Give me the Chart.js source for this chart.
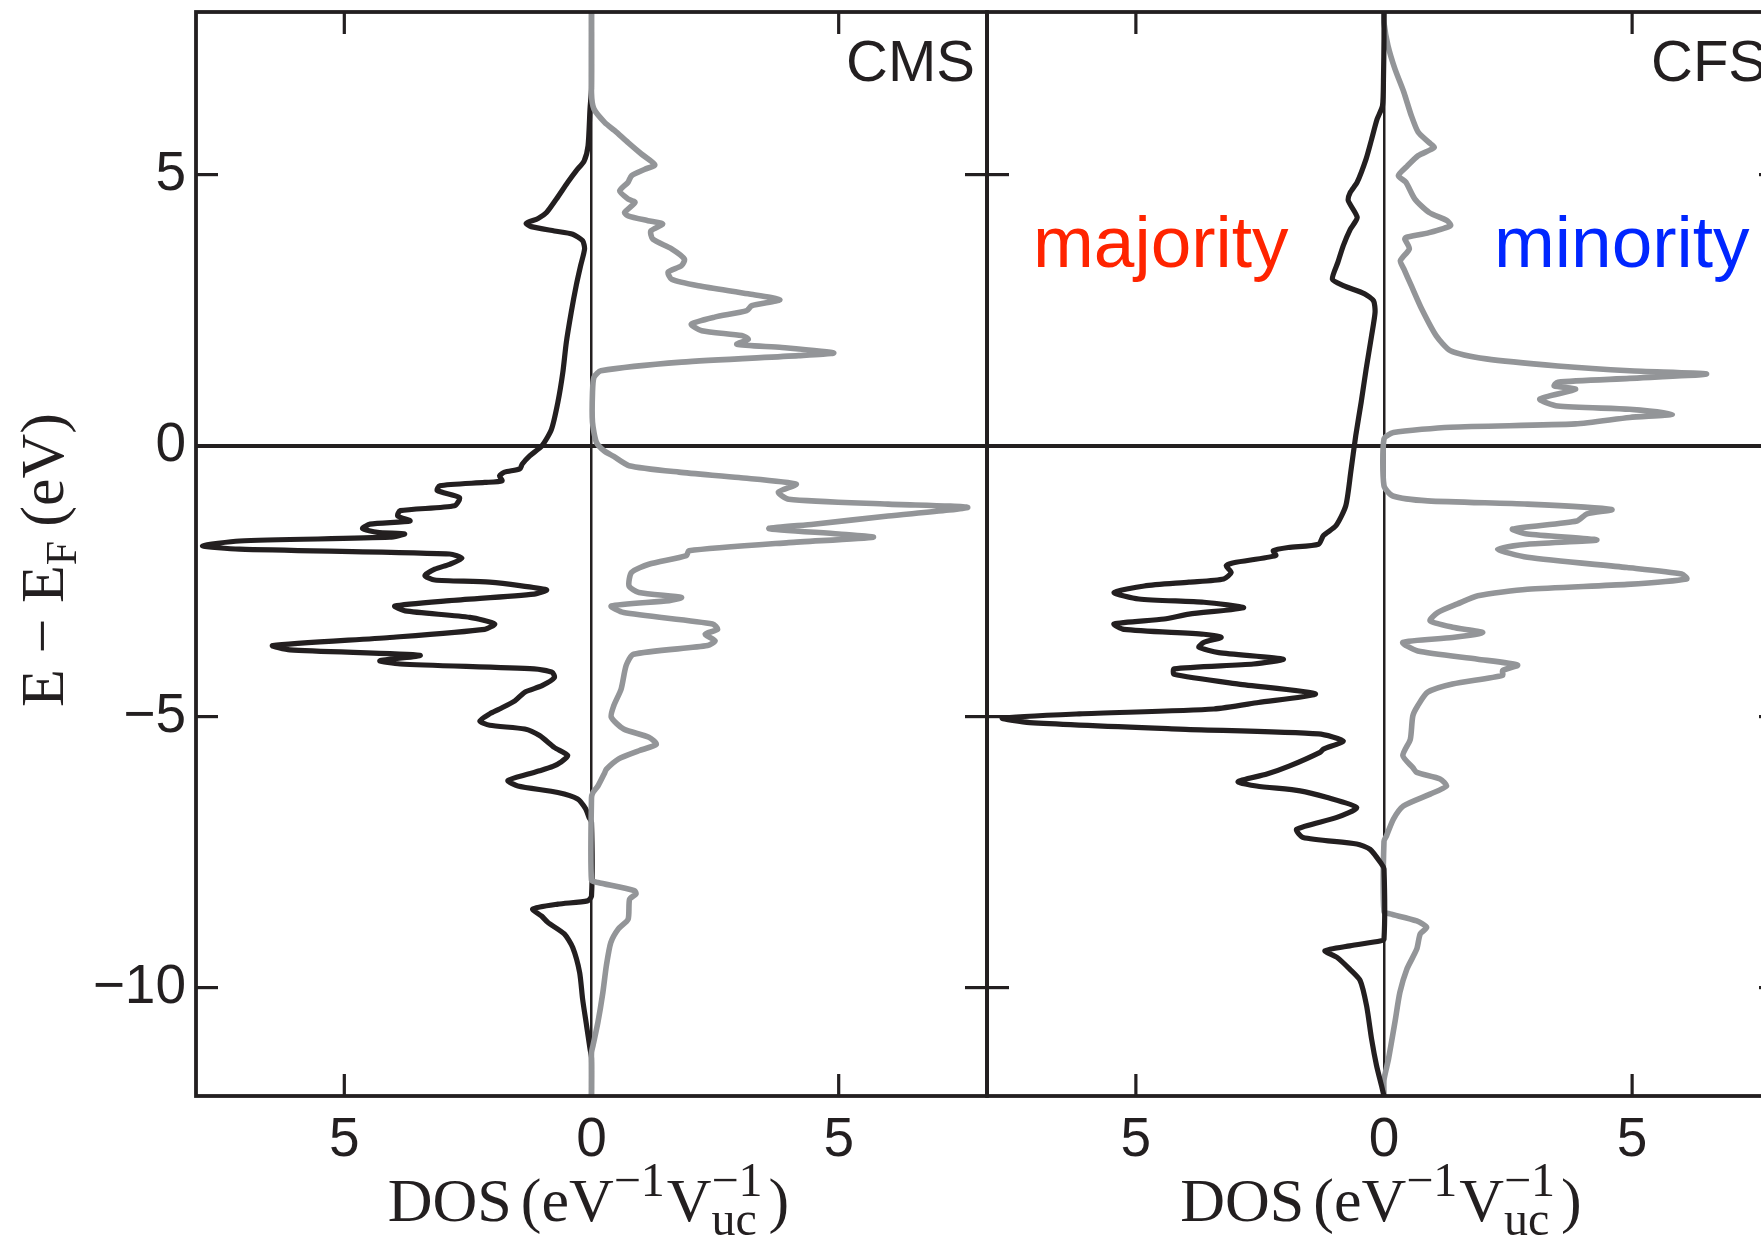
<!DOCTYPE html>
<html>
<head>
<meta charset="utf-8">
<title>Spin-resolved DOS: CMS and CFS</title>
<script src="https://cdn.jsdelivr.net/npm/chart.js@4/dist/chart.umd.min.js"></script>
<style>
  html, body { margin: 0; padding: 0; background: #fff; overflow: hidden; width: 1761px; height: 1237px; }
  #wrap { position: absolute; left: 0; top: 0; width: 1800px; height: 1237px; }
  canvas { display: block; }
</style>
</head>
<body>
<div id="wrap"><canvas id="dos" width="1800" height="1237"></canvas></div>
<script>
// ---- tick values and labels ----
const energyTicks = [5, 0, -5, -10];
const dosTicks = [-5, 0, 5];
const panelLabels = ['CMS', 'CFS'];
const spinLabels = ['majority', 'minority'];

// ---- CMS, majority spin (DOS magnitude, drawn to the left) ----
const cmsMajE = [8.0, 6.6, 6.21, 5.53, 5.25, 5.07, 4.86, 4.55, 4.30, 4.19, 4.10, 4.04, 3.96, 3.90, 3.78, 3.63,
  3.32, 2.95, 2.46, 1.90, 1.35, 0.80, 0.30, 0.0, -0.19, -0.34, -0.43, -0.49, -0.56, -0.65, -0.68, -0.74,
  -0.83, -0.96, -1.11, -1.20, -1.30, -1.39, -1.45, -1.53, -1.60, -1.63, -1.69, -1.76, -1.85, -1.91, -2.00,
  -2.08, -2.19, -2.28, -2.40, -2.48, -2.52, -2.66, -2.74, -2.86, -2.96, -3.05, -3.17, -3.29, -3.39, -3.54,
  -3.69, -3.77, -3.87, -3.97, -4.03, -4.12, -4.18, -4.28, -4.43, -4.55, -4.71, -4.86, -4.95, -5.08, -5.16,
  -5.23, -5.35, -5.57, -5.72, -5.84, -5.92, -6.00, -6.06, -6.18, -6.28, -6.40, -6.52, -6.70, -6.86, -6.95,
  -8.31, -8.40, -8.46, -8.55, -8.68, -8.80, -9.01, -9.26, -9.72, -10.21, -10.70, -11.13, -11.30, -12.0];
const cmsMajDos = [0, 0, 0.03, 0.07, 0.15, 0.31, 0.48, 0.71, 0.91, 1.08, 1.32, 1.22, 0.75, 0.38, 0.18, 0.14,
  0.22, 0.31, 0.41, 0.51, 0.58, 0.68, 0.81, 1.0, 1.25, 1.40, 1.45, 1.76, 1.86, 1.81, 2.16, 3.07,
  3.12, 2.67, 2.77, 3.87, 3.92, 3.67, 4.48, 4.63, 4.33, 3.78, 4.08, 7.12, 7.87, 7.12, 2.87,
  2.62, 2.87, 3.17, 3.37, 3.17, 2.06, 0.91, 1.16, 2.87, 3.98, 3.77, 2.46, 1.96, 2.16, 4.08,
  6.45, 6.10, 3.47, 4.28, 3.87, 1.16, 0.80, 0.75, 1.00, 1.35, 1.55, 1.86, 2.06, 2.26, 2.06,
  1.35, 1.05, 0.75, 0.48, 0.62, 0.78, 1.05, 1.28, 1.69, 1.49, 0.68, 0.28, 0.12, 0.05, 0,
  0, 0.08, 0.68, 1.19, 1.01, 0.88, 0.55, 0.38, 0.24, 0.18, 0.10, 0.03, 0, 0];

// ---- CMS, minority spin (drawn to the right) ----
const cmsMinE = [8.0, 6.5, 6.21, 5.96, 5.81, 5.59, 5.38, 5.18, 5.10, 4.98, 4.86, 4.70, 4.55, 4.49, 4.30, 4.24,
  4.15, 4.09, 3.96, 3.81, 3.63, 3.44, 3.32, 3.20, 3.07, 2.95, 2.80, 2.69, 2.58, 2.49, 2.37, 2.24, 2.12,
  2.03, 1.96, 1.87, 1.81, 1.71, 1.66, 1.54, 1.38, 1.26, 0.98, 0.43, 0.06, -0.10, -0.20, -0.37, -0.49,
  -0.59, -0.71, -0.86, -0.99, -1.08, -1.14, -1.30, -1.45, -1.53, -1.63, -1.69, -1.79, -1.94, -2.03,
  -2.19, -2.34, -2.59, -2.71, -2.80, -2.86, -2.96, -3.08, -3.29, -3.39, -3.48, -3.60, -3.69, -3.85,
  -4.06, -4.49, -4.80, -5.01, -5.23, -5.38, -5.51, -5.63, -5.78, -5.97, -6.03, -6.28, -6.40, -6.50,
  -8.02, -8.06, -8.21, -8.27, -8.37, -8.74, -8.92, -9.17, -9.60, -10.09, -10.64, -11.07, -11.20, -12.0];
const cmsMinDos = [0, 0, 0.05, 0.27, 0.47, 0.74, 1.01, 1.28, 1.08, 0.81, 0.74, 0.57, 0.74, 0.88, 0.67, 0.74,
  1.14, 1.44, 1.20, 1.24, 1.62, 1.88, 1.82, 1.55, 1.62, 2.16, 3.17, 3.81, 3.24, 3.14, 2.49, 2.02, 2.23,
  3.04, 3.17, 2.94, 3.85, 4.90, 4.19, 1.82, 0.19, 0.05, 0.02, 0.02, 0.10, 0.26, 0.45, 0.76, 1.77,
  2.98, 4.14, 3.78, 3.99, 6.00, 7.61, 6.00, 4.49, 3.59, 5.00, 5.70, 3.99, 1.97, 1.92,
  1.16, 0.81, 0.76, 0.96, 1.82, 1.57, 0.40, 0.65, 2.45, 2.55, 2.30, 2.50, 2.35, 0.85,
  0.70, 0.60, 0.45, 0.40, 0.65, 1.16, 1.31, 0.96, 0.55, 0.30, 0.27, 0.13, 0.03, 0,
  0, 0.13, 0.87, 0.90, 0.77, 0.74, 0.54, 0.39, 0.30, 0.23, 0.13, 0.03, 0, 0];

// ---- CFS, majority spin ----
const cfsMajE = [8.0, 7.5, 6.8, 6.27, 6.02, 5.65, 5.29, 4.86, 4.67, 4.52, 4.21, 3.99, 3.69, 3.38, 3.07, 2.95,
  2.80, 2.67, 2.46, 2.03, 1.41, 0.80, 0.18, -0.49, -1.11, -1.48, -1.66, -1.82, -1.88, -1.94, -2.03,
  -2.16, -2.22, -2.34, -2.46, -2.52, -2.59, -2.71, -2.83, -2.89, -2.99, -3.11, -3.20, -3.29, -3.39,
  -3.48, -3.54, -3.63, -3.72, -3.82, -3.94, -4.03, -4.12, -4.22, -4.40, -4.58, -4.74, -4.86, -4.95,
  -5.03, -5.11, -5.23, -5.32, -5.45, -5.60, -5.66, -5.91, -6.06, -6.20, -6.28, -6.37, -6.49, -6.68,
  -6.86, -7.08, -7.23, -7.35, -7.45, -7.72, -7.81, -9.11, -9.14, -9.23, -9.32, -9.44, -9.66, -9.87,
  -10.34, -10.95, -11.44, -11.81, -12.0];
const cfsMajDos = [0, 0, 0.01, 0.03, 0.14, 0.25, 0.36, 0.54, 0.68, 0.72, 0.54, 0.68, 0.82, 0.93, 1.04, 0.82,
  0.39, 0.21, 0.18, 0.25, 0.36, 0.46, 0.57, 0.67, 0.77, 0.97, 1.22, 1.32, 1.93, 2.23, 2.18,
  3.03, 3.18, 3.08, 3.23, 3.93, 4.83, 5.44, 4.94, 3.63, 2.83, 3.93, 4.43, 5.44, 5.24,
  3.63, 3.28, 3.63, 3.73, 3.33, 2.03, 2.63, 4.23, 4.23, 2.93, 1.38, 2.53, 3.43, 6.14,
  7.69, 7.14, 4.13, 1.32, 0.82, 1.22, 1.29, 1.90, 2.36, 2.94, 2.57, 1.69, 1.16, 0.55,
  0.95, 1.76, 1.63, 0.55, 0.28, 0.05, 0, 0, 0.08, 0.69, 1.19, 0.95, 0.69, 0.48,
  0.35, 0.25, 0.15, 0.05, 0];

// ---- CFS, minority spin ----
const cfsMinE = [8.0, 7.8, 7.38, 6.95, 6.52, 6.09, 5.78, 5.59, 5.50, 5.35, 5.16, 4.98, 4.86, 4.55, 4.30, 4.15,
  4.06, 3.93, 3.84, 3.81, 3.63, 3.41, 3.26, 2.95, 2.52, 2.03, 1.75, 1.60, 1.47, 1.38, 1.32, 1.24, 1.17,
  1.10, 1.04, 0.86, 0.73, 0.67, 0.58, 0.52, 0.40, 0.34, 0.24, 0.12, -0.74, -0.93, -1.02, -1.08, -1.18,
  -1.26, -1.39, -1.54, -1.63, -1.74, -1.82, -1.91, -2.06, -2.25, -2.37, -2.46, -2.56, -2.65, -2.77,
  -2.92, -3.08, -3.23, -3.35, -3.45, -3.54, -3.63, -3.79, -3.94, -4.05, -4.15, -4.24, -4.40, -4.55,
  -4.80, -4.99, -5.42, -5.72, -5.94, -6.03, -6.15, -6.28, -6.43, -6.65, -6.89, -7.20, -7.30,
  -8.60, -8.64, -8.77, -8.89, -9.01, -9.29, -9.66, -10.09, -10.64, -11.32, -11.70, -12.0];
const cfsMinDos = [0, 0, 0.08, 0.22, 0.40, 0.55, 0.69, 0.91, 1.01, 0.69, 0.47, 0.29, 0.44, 0.62, 0.91, 1.27,
  1.34, 0.91, 0.44, 0.42, 0.51, 0.33, 0.40, 0.55, 0.76, 1.05, 1.34, 2.06, 3.50, 4.95, 6.50, 4.95, 3.50,
  3.43, 3.86, 3.14, 3.50, 4.95, 5.81, 4.95, 3.86, 1.34, 0.19, 0, 0, 0.18, 0.88, 2.89, 4.59,
  4.09, 3.89, 2.59, 2.89, 4.29, 2.89, 2.29, 2.89, 4.90, 6.00, 6.10, 4.90, 2.89, 1.89,
  1.48, 1.08, 0.93, 1.38, 1.99, 1.38, 0.38, 0.68, 1.89, 2.69, 2.39, 2.39, 1.38, 0.88,
  0.68, 0.58, 0.53, 0.38, 0.58, 0.66, 1.13, 1.26, 0.93, 0.39, 0.19, 0.05, 0,
  0, 0.12, 0.66, 0.86, 0.73, 0.66, 0.46, 0.32, 0.22, 0.09, 0, 0];

// ---- styling ----
const INK = '#231f20';
const GREY = '#939598';
const SANS = '"Liberation Sans", Arial, Helvetica, sans-serif';
const SERIF = '"Liberation Serif", "Times New Roman", serif';
const TICK_LEN = 22;

// majority is drawn on the negative side of each panel
function toPoints(energies, dos, side) {
  return energies.map((e, i) => ({ x: side * dos[i], y: e }));
}

function curve(label, energies, dos, side, axis, color, width) {
  return {
    label,
    data: toPoints(energies, dos, side),
    xAxisID: axis,
    yAxisID: 'y',
    showLine: true,
    borderColor: color,
    backgroundColor: color,
    borderWidth: width,
    pointRadius: 0,
    pointHoverRadius: 0,
    tension: 0.22,
    fill: false,
    borderJoinStyle: 'round',
    borderCapStyle: 'round'
  };
}

function dosAxis(weight) {
  return {
    type: 'linear',
    position: 'bottom',
    stack: 'panels',
    stackWeight: weight,
    min: -8,
    max: 8,
    afterBuildTicks: (s) => { s.ticks = dosTicks.map(v => ({ value: v })); },
    afterFit: (s) => { s.height = 141; s.paddingLeft = 0; s.paddingRight = 0; },
    border: { display: false },
    grid: {
      drawTicks: false,
      color: (c) => (c.tick && c.tick.value === 0) ? INK : 'rgba(0,0,0,0)',
      lineWidth: 2.5
    },
    ticks: {
      autoSkip: false,
      maxRotation: 0,
      padding: 12,
      color: INK,
      font: { family: SANS, size: 55, lineHeight: 1.2 },
      callback: (v) => String(Math.abs(v))
    }
  };
}

// ---- rich text (super/subscripts) ----
function measureParts(ctx, parts) {
  let w = 0;
  for (const p of parts) {
    if (p.gap) { w += p.gap; continue; }
    ctx.font = p.size + 'px ' + SERIF;
    if (p.sub !== undefined) {
      p.w = Math.max(ctx.measureText(p.sub).width, ctx.measureText(p.sup).width);
    } else {
      p.w = ctx.measureText(p.t).width;
    }
    w += p.w;
  }
  return w;
}

function drawParts(ctx, parts, cx, baseline) {
  const total = measureParts(ctx, parts);
  let x = cx - total / 2;
  ctx.textAlign = 'left';
  ctx.textBaseline = 'alphabetic';
  for (const p of parts) {
    if (p.gap) { x += p.gap; continue; }
    ctx.font = p.size + 'px ' + SERIF;
    if (p.sub !== undefined) {
      ctx.fillText(p.sub, x, baseline + p.subDy);
      ctx.fillText(p.sup, x, baseline + p.supDy);
    } else {
      ctx.fillText(p.t, x, baseline + (p.dy || 0));
    }
    x += p.w;
  }
}

const annotations = {
  id: 'annotations',
  afterDatasetsDraw(chart) {
    const { ctx, chartArea: a, scales } = chart;
    const yS = scales.y;
    ctx.save();
    ctx.strokeStyle = INK;
    ctx.lineCap = 'butt';
    const seg = (x1, y1, x2, y2) => { ctx.beginPath(); ctx.moveTo(x1, y1); ctx.lineTo(x2, y2); ctx.stroke(); };
    ['x1', 'x2'].forEach((id) => {
      const s = scales[id];
      ctx.lineWidth = 3.8;
      ctx.strokeRect(s.left, a.top, s.right - s.left, a.bottom - a.top);
      ctx.lineWidth = 3.2;
      dosTicks.forEach((v) => {
        if (v === 0) return;
        const px = s.getPixelForValue(v);
        seg(px, a.top, px, a.top + TICK_LEN);
        seg(px, a.bottom, px, a.bottom - TICK_LEN);
      });
      energyTicks.forEach((v) => {
        const py = yS.getPixelForValue(v);
        seg(s.left, py, s.left + TICK_LEN, py);
        seg(s.right, py, s.right - TICK_LEN, py);
      });
    });
    ctx.restore();
  },
  afterDraw(chart) {
    const { ctx, chartArea: a, scales } = chart;
    const s1 = scales.x1, s2 = scales.x2;
    ctx.save();
    ctx.fillStyle = INK;
    ctx.textBaseline = 'alphabetic';

    // compound names, top right of each panel
    ctx.font = '58px ' + SANS;
    ctx.textAlign = 'right';
    ctx.fillText(panelLabels[0], s1.right - 12, a.top + 69);
    ctx.fillText(panelLabels[1], s2.right - 14, a.top + 69);

    // spin channel labels
    ctx.font = '73px ' + SANS;
    ctx.textAlign = 'left';
    ctx.fillStyle = '#ff2400';
    ctx.fillText(spinLabels[0], s2.left + 46, a.top + 255);
    ctx.fillStyle = '#0026ff';
    ctx.fillText(spinLabels[1], s2.left + 507, a.top + 255);

    // x-axis titles
    ctx.fillStyle = INK;
    const xTitle = () => [
      { t: 'DOS', size: 62 }, { gap: 9 }, { t: '(eV', size: 62 },
      { t: '\u22121', size: 48, dy: -25 },
      { gap: 2 }, { t: 'V', size: 62 },
      { sub: 'uc', sup: '\u22121', size: 48, subDy: 14, supDy: -25 },
      { gap: 6 }, { t: ')', size: 62 }
    ];
    drawParts(ctx, xTitle(), (s1.left + s1.right) / 2 - 3, a.bottom + 125);
    drawParts(ctx, xTitle(), (s2.left + s2.right) / 2 - 3, a.bottom + 125);

    // y-axis title, rotated
    ctx.save();
    ctx.translate(63, (a.top + a.bottom) / 2 + 6);
    ctx.rotate(-Math.PI / 2);
    drawParts(ctx, [
      { t: 'E \u2212 E', size: 62 },
      { t: 'F', size: 44, dy: 13 },
      { gap: 14 }, { t: '(eV)', size: 62 }
    ], 0, 0);
    ctx.restore();
    ctx.restore();
  }
};

new Chart(document.getElementById('dos'), {
  type: 'scatter',
  data: {
    datasets: [
      curve('CMS minority', cmsMinE, cmsMinDos, 1, 'x1', GREY, 5.6),
      curve('CMS majority', cmsMajE, cmsMajDos, -1, 'x1', INK, 5.2),
      curve('CFS majority', cfsMajE, cfsMajDos, -1, 'x2', INK, 5.2),
      curve('CFS minority', cfsMinE, cfsMinDos, 1, 'x2', GREY, 5.6)
    ]
  },
  options: {
    responsive: false,
    animation: false,
    devicePixelRatio: 1,
    layout: { padding: { top: 12, right: 19, left: 0, bottom: 0 } },
    plugins: { legend: { display: false }, tooltip: { enabled: false }, title: { display: false } },
    events: [],
    scales: {
      x1: dosAxis(791),
      x2: dosAxis(794),
      y: {
        type: 'linear',
        position: 'left',
        min: -12,
        max: 8,
        afterBuildTicks: (s) => { s.ticks = energyTicks.map(v => ({ value: v })); },
        afterFit: (s) => { s.width = 196; s.paddingTop = 0; s.paddingBottom = 0; },
        border: { display: false },
        grid: {
          drawTicks: false,
          color: (c) => (c.tick && c.tick.value === 0) ? INK : 'rgba(0,0,0,0)',
          lineWidth: 4
        },
        ticks: {
          padding: 10,
          color: INK,
          font: { family: SANS, size: 55 },
          callback: (v) => v < 0 ? '\u2212' + Math.abs(v) : String(v)
        }
      }
    }
  },
  plugins: [annotations]
});
</script>
</body>
</html>
